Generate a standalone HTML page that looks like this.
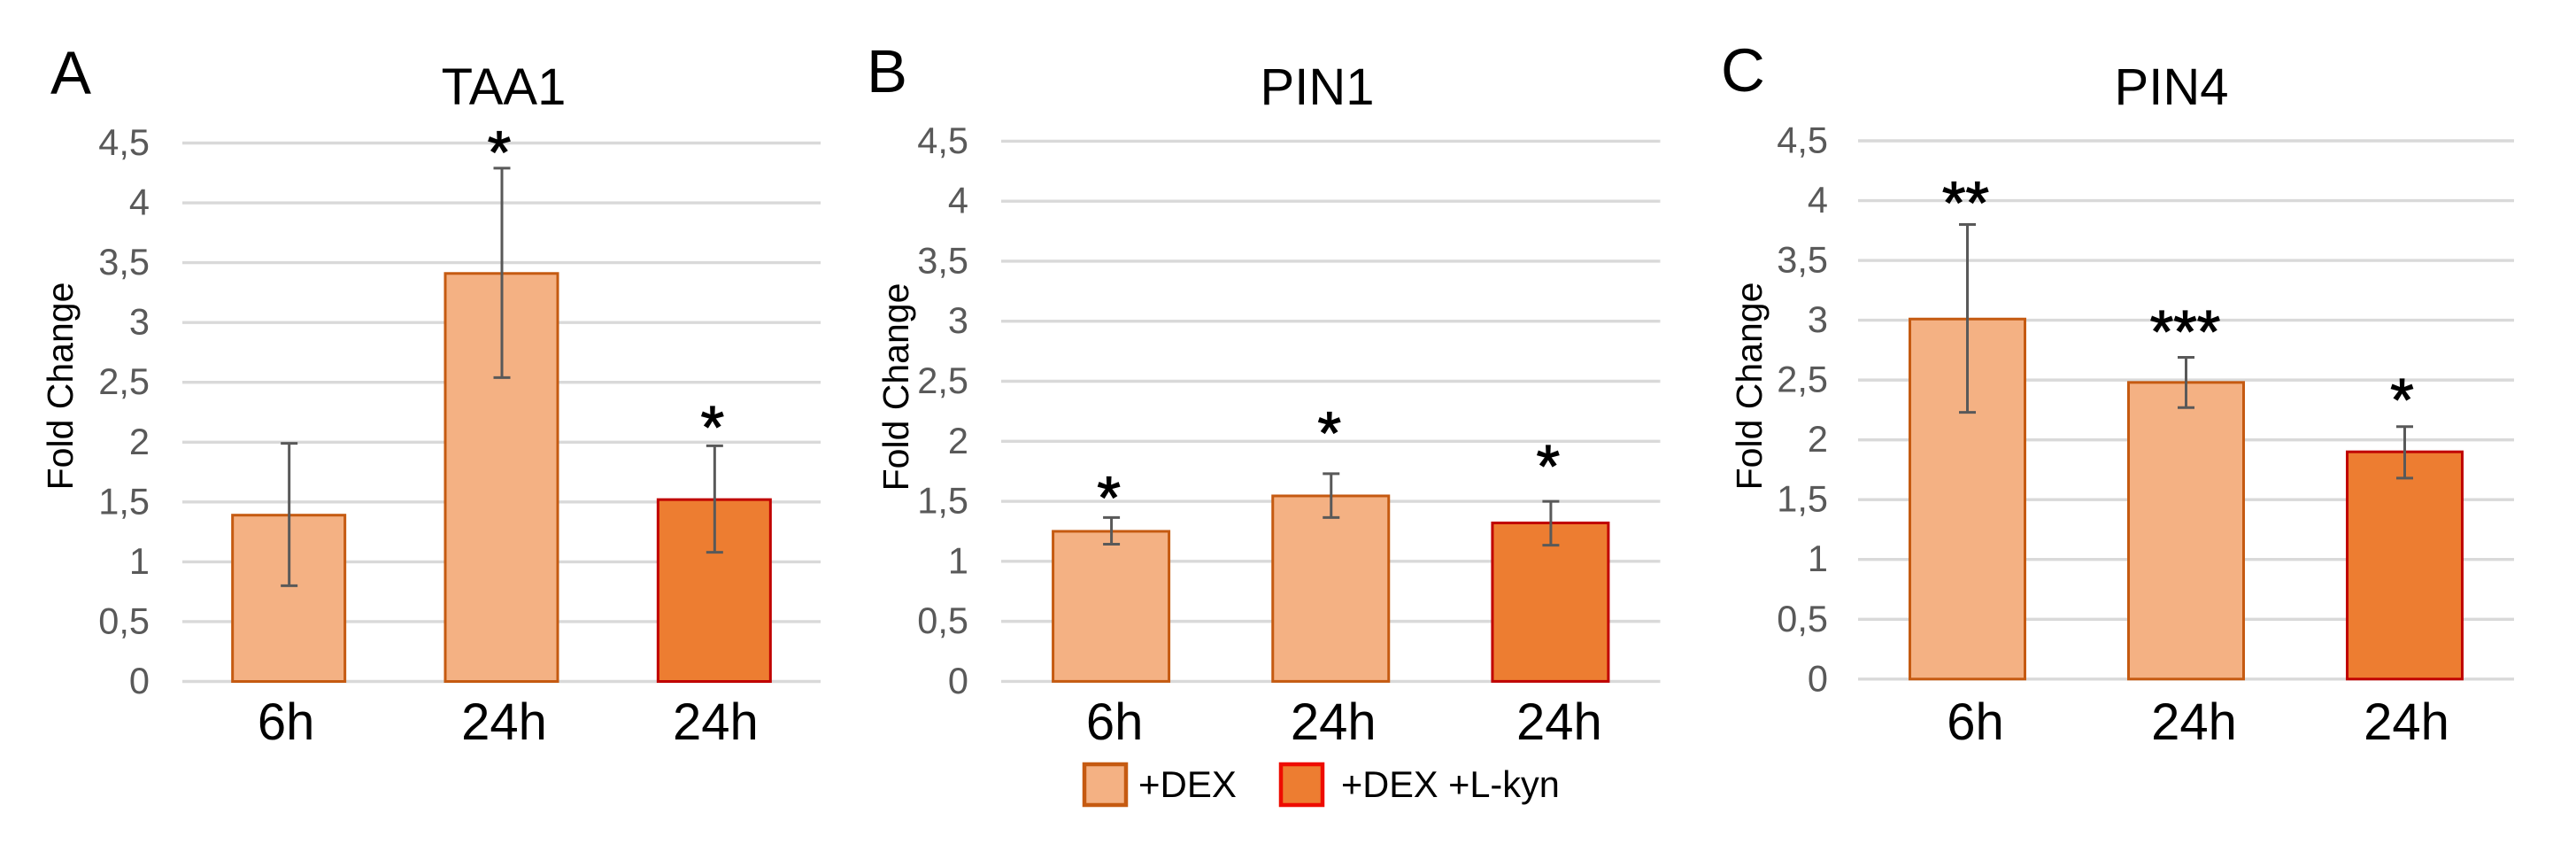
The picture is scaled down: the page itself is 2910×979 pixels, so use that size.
<!DOCTYPE html>
<html lang="en">
<head>
<meta charset="utf-8">
<title>Fold change of TAA1, PIN1 and PIN4</title>
<style>
html,body{margin:0;padding:0;background:#fff;}
svg{display:block;font-family:"Liberation Sans",Arial,sans-serif;}
</style>
</head>
<body>
<svg id="figure" xmlns="http://www.w3.org/2000/svg" width="2910" height="979" viewBox="0 0 2910 979">
  <rect x="0" y="0" width="2910" height="979" fill="#ffffff"/>
  <g id="panels"></g>
  <g>
    <g>
      <rect x="1225" y="863" width="47" height="46" fill="#F4B183" stroke="#C55A11" stroke-width="4.5"/>
      <text x="1286" y="900" font-size="42" fill="#000">+DEX</text>
    </g>
    <g>
      <rect x="1447" y="863" width="47" height="46" fill="#ED7D31" stroke="#EE0C00" stroke-width="4.5"/>
      <text x="1515" y="900" font-size="41.5" fill="#000">+DEX +L-kyn</text>
    </g>
  </g>
</svg>
<script>
// Shared axis data
const tickValues = [0, 0.5, 1, 1.5, 2, 2.5, 3, 3.5, 4, 4.5];
const tickLabels = ['0', '0,5', '1', '1,5', '2', '2,5', '3', '3,5', '4', '4,5'];
const axisMax = 4.5;
const categories = ['6h', '24h', '24h'];
const treatments = ['dex', 'dex', 'dex-lkyn'];

// Panel A: TAA1
const taa1Values = [1.39, 3.41, 1.52];
const taa1ErrLow = [0.80, 2.54, 1.08];
const taa1ErrHigh = [1.99, 4.29, 1.97];
const taa1Sig = ['', '*', '*'];
const taa1SigLevel = [0, 4.49, 2.19];

// Panel B: PIN1
const pin1Values = [1.25, 1.545, 1.32];
const pin1ErrLow = [1.143, 1.365, 1.134];
const pin1ErrHigh = [1.365, 1.73, 1.50];
const pin1Sig = ['*', '*', '*'];
const pin1SigLevel = [1.596, 2.135, 1.86];

// Panel C: PIN4
const pin4Values = [3.01, 2.48, 1.90];
const pin4ErrLow = [2.23, 2.27, 1.68];
const pin4ErrHigh = [3.80, 2.69, 2.11];
const pin4Sig = ['**', '***', '*'];
const pin4SigLevel = [4.05, 2.97, 2.40];

const NS = 'http://www.w3.org/2000/svg';
const root = document.getElementById('panels');

function make(parent, tag, attrs, text) {
  const el = document.createElementNS(NS, tag);
  for (const k in attrs) el.setAttribute(k, attrs[k]);
  if (text !== undefined) el.textContent = text;
  parent.appendChild(el);
  return el;
}

function drawPanel(p) {
  const g = make(root, 'g', {});
  
  

  const yScale = v => p.y0 + (p.yTop - p.y0) * (v / axisMax);
  const band = (p.x1 - p.x0) / categories.length;
  const xScale = i => p.x0 + band * (i + 0.5);

  const letter = make(g, 'text', {x: p.letterX, y: p.letterY, 'font-size': 69, fill: '#000'}, p.letter);
  
  

  const title = make(g, 'text', {x: p.titleX, y: 118, 'font-size': 58, fill: '#000', 'text-anchor': 'middle'}, p.title);
  
  

  const yTitle = make(g, 'text', {
    x: 0, y: 0, 'font-size': 41, fill: '#000', 'text-anchor': 'middle',
    transform: 'translate(' + p.yTitleX + ' ' + p.yTitleY + ') rotate(-90)'
  }, 'Fold Change');
  
  

  tickValues.forEach((v, i) => {
    const line = make(g, 'line', {x1: p.x0, x2: p.x1, y1: yScale(v), y2: yScale(v), stroke: '#D9D9D9', 'stroke-width': 3.4});
    
    
    const label = make(g, 'text', {x: p.tickRight, y: yScale(v) + 13.5, 'font-size': 41.5, fill: '#595959', 'text-anchor': 'end'}, tickLabels[i]);
    
    
  });

  categories.forEach((c, i) => {
    const dark = treatments[i] === 'dex-lkyn';
    const cx = xScale(i);
    const top = yScale(p.values[i]);
    const bar = make(g, 'rect', {
      x: cx - p.barW / 2, y: top, width: p.barW, height: yScale(0) - top,
      fill: dark ? '#ED7D31' : '#F4B183',
      stroke: dark ? '#C00000' : '#C55A11',
      'stroke-width': 3
    });
    
    

    const hi = yScale(p.errHigh[i]);
    const lo = yScale(p.errLow[i]);
    const ex = cx + p.errNudge;
    const err = make(g, 'path', {
      d: 'M' + ex + ' ' + hi + 'V' + lo + 'M' + (ex - 9.5) + ' ' + hi + 'H' + (ex + 9.5) + 'M' + (ex - 9.5) + ' ' + lo + 'H' + (ex + 9.5),
      fill: 'none', stroke: '#595959', 'stroke-width': 3
    });
    
    

    const xl = make(g, 'text', {x: cx + p.labelNudge[i], y: 835, 'font-size': 58, fill: '#000', 'text-anchor': 'middle'}, c);
    
    

    if (p.sig[i]) {
      const star = make(g, 'text', {
        x: cx + p.starNudge[i], y: yScale(p.sigLevel[i]) + 32,
        'font-size': 68, fill: '#000', stroke: '#000', 'stroke-width': 1.2, 'text-anchor': 'middle'
      }, p.sig[i]);
      
      
    }
  });
}

drawPanel({
  key: 'taa1', letter: 'A', title: 'TAA1',
  values: taa1Values, errLow: taa1ErrLow, errHigh: taa1ErrHigh, sig: taa1Sig, sigLevel: taa1SigLevel,
  x0: 206, x1: 927, yTop: 161.5, y0: 769.5, barW: 127, errNudge: 0.5,
  letterX: 57, letterY: 106, titleX: 569, yTitleX: 82, yTitleY: 436, tickRight: 169,
  labelNudge: [-3, 3, 1.5], starNudge: [0, -2.5, -2]
});
drawPanel({
  key: 'pin1', letter: 'B', title: 'PIN1',
  values: pin1Values, errLow: pin1ErrLow, errHigh: pin1ErrHigh, sig: pin1Sig, sigLevel: pin1SigLevel,
  x0: 1131, x1: 1875.5, yTop: 159.4, y0: 769.4, barW: 131, errNudge: 0.5,
  letterX: 979, letterY: 104, titleX: 1488, yTitleX: 1026, yTitleY: 437, tickRight: 1094,
  labelNudge: [4, 3, 10], starNudge: [-2.5, -1.5, -2.5]
});
drawPanel({
  key: 'pin4', letter: 'C', title: 'PIN4',
  values: pin4Values, errLow: pin4ErrLow, errHigh: pin4ErrHigh, sig: pin4Sig, sigLevel: pin4SigLevel,
  x0: 2099, x1: 2840, yTop: 159, y0: 766.8, barW: 130, errNudge: 0,
  letterX: 1944, letterY: 103, titleX: 2453, yTitleX: 1990, yTitleY: 436, tickRight: 2065,
  labelNudge: [9, 9, 2], starNudge: [-2, -1, -3]
});
</script>
</body>
</html>
